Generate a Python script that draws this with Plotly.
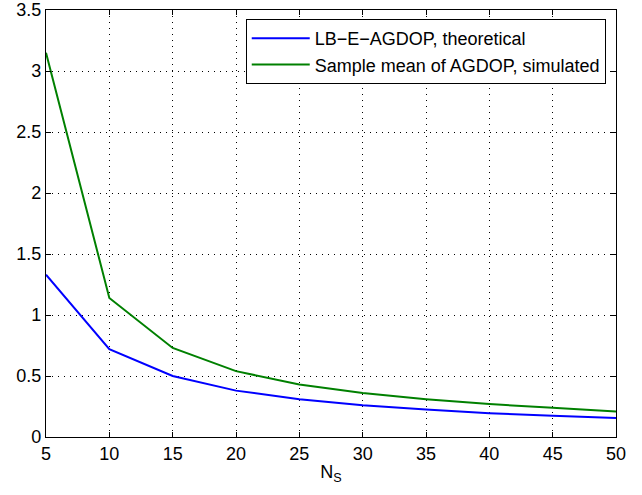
import plotly.graph_objects as go

ns = [5, 10, 15, 20, 25, 30, 35, 40, 45, 50]
lb_theoretical = [1.33, 0.72, 0.50, 0.38, 0.31, 0.26, 0.225, 0.195, 0.175, 0.155]
sample_mean_sim = [3.15, 1.14, 0.73, 0.54, 0.43, 0.36, 0.31, 0.27, 0.24, 0.21]
x_ticks = [5, 10, 15, 20, 25, 30, 35, 40, 45, 50]
y_ticks = [0, 0.5, 1, 1.5, 2, 2.5, 3, 3.5]
y_tick_text = ["0", "0.5", "1", "1.5", "2", "2.5", "3", "3.5"]

FONT = "Liberation Sans, Arial, Helvetica, sans-serif"

fig = go.Figure()
fig.add_trace(go.Scatter(x=ns, y=lb_theoretical, mode="lines",
                         name="LB\u2212E\u2212AGDOP, theoretical",
                         line=dict(color="#0000ff", width=2)))
fig.add_trace(go.Scatter(x=ns, y=sample_mean_sim, mode="lines",
                         name="Sample mean of AGDOP, simulated",
                         line=dict(color="#008000", width=2)))

axis_common = dict(showline=True, linecolor="black", linewidth=1.2, mirror="ticks",
                   ticks="inside", ticklen=5, tickcolor="black", tickwidth=1,
                   showgrid=True, gridcolor="black", griddash="1px,5px", gridwidth=1,
                   zeroline=False, automargin=False, ticklabeloverflow="allow",
                   tickfont=dict(family=FONT, size=18, color="black"))

fig.update_xaxes(range=[5, 50], tickvals=x_ticks,
                 title=dict(text="N<sub>S</sub>", font=dict(family=FONT, size=18, color="black"), standoff=2),
                 **axis_common)
fig.update_yaxes(range=[0, 3.5], tickvals=y_ticks, ticktext=y_tick_text, **axis_common)

fig.update_layout(
    width=642, height=495,
    margin=dict(l=46, r=26, t=10, b=58),
    paper_bgcolor="white", plot_bgcolor="white",
    font=dict(family=FONT, size=18, color="black"),
    legend=dict(x=0.982, y=0.979, xanchor="right", yanchor="top",
                bgcolor="white", bordercolor="black", borderwidth=1,
                font=dict(family=FONT, size=18, color="black"),
                tracegroupgap=0, itemwidth=58),
    showlegend=True,
)

# remove the browser's default 8px body margin so the figure fills the window
fig.write_html("out.html", config={"displayModeBar": False},
               post_script="document.body.style.margin='0px';")
